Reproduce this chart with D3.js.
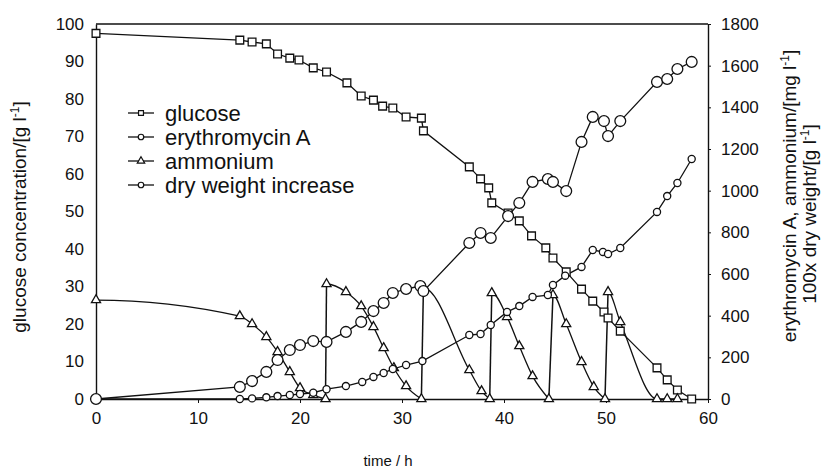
<!DOCTYPE html>
<html>
<head>
<meta charset="utf-8">
<script src="https://cdn.jsdelivr.net/npm/d3@7"></script>
<style>
  body { margin: 0; background: #fff; }
  svg text { font-family: "Liberation Sans", Arial, sans-serif; fill: #111; }
</style>
</head>
<body>
<div id="chart"></div>
<script>
// Fed-batch fermentation: glucose (left axis), erythromycin A, ammonium, dry weight (right axis)

const glucoseTime = [0, 14.1, 15.3, 16.7, 17.8, 19.0, 19.9, 21.3, 22.6, 24.6, 26.0, 27.2, 28.1, 29.1, 30.4, 31.9, 32.1,
  36.6, 37.7, 38.5, 38.8, 40.4, 41.5, 42.7, 44.1, 44.8, 46.1, 47.6, 48.7, 49.8, 50.2, 51.4, 55.0, 56.0, 57.0, 58.4];
const glucose = [97.5, 95.7, 95.2, 94.7, 92.0, 90.9, 90.4, 88.3, 87.2, 84.3, 80.8, 79.7, 78.1, 77.6, 75.2, 74.9, 71.5,
  61.9, 58.7, 56.3, 52.3, 49.6, 47.5, 43.5, 40.3, 37.6, 33.9, 29.3, 26.1, 23.2, 21.6, 18.1, 8.3, 5.1, 2.4, 0];

const erythroTime = [0, 14.1, 15.3, 16.7, 17.8, 19.0, 20.0, 21.3, 22.6, 24.5, 26.1, 27.2, 28.2, 29.1, 30.4, 32.0,
  36.6, 37.7, 38.7, 40.3, 41.5, 42.8, 44.3, 44.8, 46.0, 47.6, 48.7, 49.7, 50.2, 51.4, 55.0, 56.0, 57.0, 58.4];
const erythromycin = [0, 0, 3, 8, 14, 19, 24, 30, 47, 62, 82, 106, 125, 144, 163, 182,
  307, 312, 355, 418, 446, 490, 499, 547, 592, 634, 715, 706, 696, 725, 898, 974, 1037, 1152];

// ammonium: each feed shows up as a jump back up
const ammoniumTime = [0, 14.1, 15.3, 16.7, 17.8, 19.0, 20.0, 21.3, 22.5,
  22.6, 24.5, 26.0, 27.2, 28.2, 29.2, 30.4, 31.9,
  32.1, 36.6, 37.8, 38.6,
  38.8, 40.3, 41.5, 42.8, 44.4,
  44.8, 46.1, 47.6, 48.8, 49.9,
  50.2, 51.4, 55.0, 56.0, 57.0];
const ammonium = [475, 398, 360, 298, 226, 130, 53, 19, 0,
  552, 514, 446, 346, 245, 149, 62, 0,
  533, 139, 38, 0,
  509, 394, 254, 110, 0,
  499, 360, 178, 58, 0,
  514, 370, 0, 0, 0];

const dryTime = [0, 14.1, 15.3, 16.7, 17.8, 19.0, 20.0, 21.3, 22.6, 24.5, 26.0, 27.2, 28.2, 29.1, 30.4, 31.8, 32.1,
  36.6, 37.7, 38.7, 40.4, 41.5, 42.8, 44.3, 44.8, 46.1, 47.6, 48.7, 49.8, 50.2, 51.4, 55.0, 56.0, 57.0, 58.4];
const dryWeight = [0, 58, 86, 130, 187, 235, 259, 278, 274, 322, 370, 422, 461, 509, 528, 542, 518,
  749, 797, 773, 878, 941, 1042, 1056, 1042, 998, 1234, 1354, 1334, 1262, 1334, 1522, 1536, 1584, 1618];

const leftTicks = [0, 10, 20, 30, 40, 50, 60, 70, 80, 90, 100];
const rightTicks = [0, 200, 400, 600, 800, 1000, 1200, 1400, 1600, 1800];
const timeTicks = [0, 10, 20, 30, 40, 50, 60];
const legendNames = ["glucose", "erythromycin A", "ammonium", "dry weight increase"];

const width = 827, height = 474;

const svg = d3.select("#chart").append("svg")
  .attr("width", width)
  .attr("height", height);

const x = d3.scaleLinear().domain([0, 60]).range([96, 708]);
const yL = d3.scaleLinear().domain([0, 100]).range([399, 24]);
const yR = d3.scaleLinear().domain([0, 1800]).range([399, 24]);

// axes
svg.append("g")
  .attr("transform", `translate(0,${yL(0)})`)
  .call(d3.axisBottom(x).tickValues(timeTicks).tickSize(4).tickPadding(9).tickSizeOuter(0));

svg.append("g")
  .attr("transform", `translate(${x(0)},0)`)
  .call(d3.axisLeft(yL).tickValues(leftTicks).tickSize(0).tickPadding(12));

svg.append("g")
  .attr("transform", `translate(${x(60)},0)`)
  .call(d3.axisRight(yR).tickValues(rightTicks).tickFormat(d3.format("d"))
    .tickSize(3).tickPadding(10).tickSizeOuter(0));

svg.selectAll(".domain").attr("stroke", "#111").attr("stroke-width", 1.4);
svg.selectAll(".tick line").attr("stroke", "#111");
svg.selectAll(".tick text").style("font-size", "17px");

// top frame line
svg.append("line")
  .attr("x1", x(0)).attr("x2", x(60))
  .attr("y1", yL(100)).attr("y2", yL(100))
  .attr("stroke", "#111").attr("stroke-width", 1.4);

// axis titles
svg.append("text")
  .attr("x", 388).attr("y", 466)
  .attr("text-anchor", "middle")
  .style("font-size", "15px")
  .text("time / h");

function unitTitle(tx, ty, main) {
  const t = svg.append("text")
    .attr("transform", `translate(${tx},${ty}) rotate(-90)`)
    .attr("text-anchor", "middle")
    .style("font-size", "19px");
  t.append("tspan").text(main);
  t.append("tspan").attr("dy", -7).style("font-size", "12px").text("-1");
  t.append("tspan").attr("dy", 7).text("]");
}
unitTitle(26, 217, "glucose concentration/[g l");
unitTitle(796, 196, "erythromycin A, ammonium/[mg l");
unitTitle(816, 214, "100x dry weight/[g l");

// marker helpers
const sym = {
  square: d3.symbol().type(d3.symbolSquare).size(60),
  triangle: d3.symbol().type(d3.symbolTriangle).size(36),
  small: d3.symbol().type(d3.symbolCircle).size(40),
  big: d3.symbol().type(d3.symbolCircle).size(92)
};

function drawMarkers(pts, kind) {
  svg.append("g").selectAll("path")
    .data(pts)
    .enter()
    .append("path")
    .attr("d", sym[kind])
    .attr("transform", d => `translate(${d[0]},${d[1]})`)
    .attr("fill", "#fff")
    .attr("stroke", "#111")
    .attr("stroke-width", 1.3);
}

const straight = d3.line();

function drawSeries(times, values, yScale) {
  const pts = times.map((t, i) => [x(t), yScale(values[i])]);
  svg.append("path")
    .attr("d", straight(pts))
    .attr("fill", "none")
    .attr("stroke", "#111")
    .attr("stroke-width", 1.3);
  return pts;
}

const gluPts = drawSeries(glucoseTime, glucose, yL);
const eryPts = drawSeries(erythroTime, erythromycin, yR);
const dryPts = drawSeries(dryTime, dryWeight, yR);

// smoothed curve for an ammonium segment: monotone tangents,
// but flat right after a feed (the level holds a moment before dropping)
function smoothPath(p) {
  const n = p.length;
  if (n < 2) return "";
  const h = [], s = [], m = [];
  for (let i = 0; i < n - 1; i++) {
    h[i] = p[i + 1][0] - p[i][0];
    s[i] = (p[i + 1][1] - p[i][1]) / h[i];
  }
  m[0] = 0;
  for (let i = 1; i < n - 1; i++) {
    if (s[i - 1] * s[i] <= 0) { m[i] = 0; continue; }
    const q = (s[i - 1] * h[i] + s[i] * h[i - 1]) / (h[i - 1] + h[i]);
    m[i] = Math.sign(s[i]) * Math.min(Math.abs(q), 2 * Math.abs(s[i - 1]), 2 * Math.abs(s[i]));
  }
  m[n - 1] = n > 2 ? (3 * s[n - 2] - m[n - 2]) / 2 : s[0];
  let d = `M${p[0][0]},${p[0][1]}`;
  for (let i = 0; i < n - 1; i++) {
    const dx = h[i] / 3;
    d += `C${p[i][0] + dx},${p[i][1] + m[i] * dx} ${p[i + 1][0] - dx},${p[i + 1][1] - m[i + 1] * dx} ${p[i + 1][0]},${p[i + 1][1]}`;
  }
  return d;
}

const ammPts = ammoniumTime.map((t, i) => [x(t), yR(ammonium[i])]);
const segments = [];
let seg = [ammPts[0]];
for (let i = 1; i < ammPts.length; i++) {
  if (ammonium[i] > ammonium[i - 1]) {
    segments.push(seg);
    svg.append("line")
      .attr("x1", ammPts[i - 1][0]).attr("y1", ammPts[i - 1][1])
      .attr("x2", ammPts[i][0]).attr("y2", ammPts[i][1])
      .attr("stroke", "#111").attr("stroke-width", 1.5);
    seg = [];
  }
  seg.push(ammPts[i]);
}
segments.push(seg);
segments.forEach(sg => {
  svg.append("path")
    .attr("d", smoothPath(sg))
    .attr("fill", "none")
    .attr("stroke", "#111")
    .attr("stroke-width", 1.3);
});

drawMarkers(gluPts, "square");
drawMarkers(ammPts, "triangle");
drawMarkers(eryPts, "small");
drawMarkers(dryPts, "big");

// legend
const legendSym = [d3.symbolSquare, d3.symbolCircle, d3.symbolTriangle, d3.symbolCircle];
const legend = svg.append("g");
legendNames.forEach((name, i) => {
  const ly = 113 + i * 24;
  legend.append("line")
    .attr("x1", 128).attr("x2", 154)
    .attr("y1", ly).attr("y2", ly)
    .attr("stroke", "#111").attr("stroke-width", 1.3);
  legend.append("path")
    .attr("d", d3.symbol().type(legendSym[i]).size(24))
    .attr("transform", `translate(141,${ly})`)
    .attr("fill", "#fff").attr("stroke", "#111").attr("stroke-width", 1.2);
  legend.append("text")
    .attr("x", 165).attr("y", ly)
    .attr("dy", "0.35em")
    .style("font-size", "22px")
    .text(name);
});
</script>
</body>
</html>
